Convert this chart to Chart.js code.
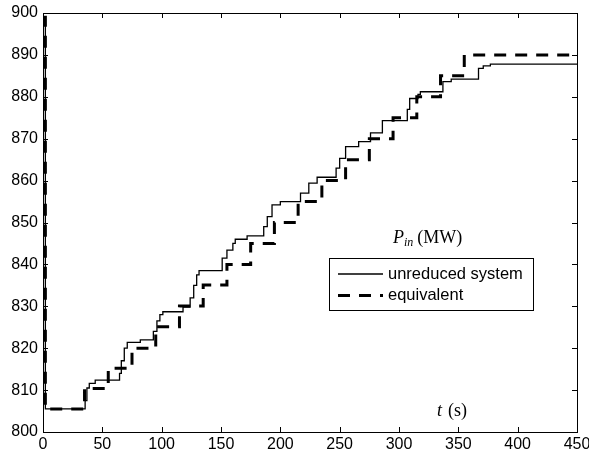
<!DOCTYPE html>
<html>
<head>
<meta charset="utf-8">
<script src="https://cdn.jsdelivr.net/npm/chart.js@4/dist/chart.umd.min.js"></script>
<style>
  html, body { margin: 0; padding: 0; background: #fff; }
  #wrap { width: 589px; height: 455px; }
</style>
</head>
<body>
<div id="wrap"><canvas id="pinChart" width="589" height="455"></canvas></div>
<script>
// step times (s) and the new power level (MW) from that time on
const unreducedT = [0, 2, 35.5, 37, 39, 44, 64.5, 66, 68.5, 71, 82, 93, 96, 98.5, 101, 118, 124, 127, 129.5, 131.5,
  151, 155, 160, 162, 172, 186, 189, 193, 200, 217, 224, 231, 247, 250, 255, 266, 276, 286, 307, 309, 316, 318,
  337, 344, 367, 371, 377, 450];
const unreducedP = [899, 805.5, 807.5, 810.5, 811.6, 812.4, 814, 817, 820, 821.4, 822, 824, 826.5, 828, 828.7, 829.8, 832, 835, 837.5, 838.5,
  841.5, 843.4, 845, 846, 846.8, 849, 851.4, 854.2, 855, 857, 859.4, 860.8, 863, 865.3, 868.1, 869.3, 871.4, 874.3, 877, 879.6, 880.6, 881.2,
  883.6, 884.2, 886.8, 887.4, 887.8, 887.8];

const equivT = [0, 2, 35, 55, 75, 95, 115, 135, 155, 175, 195, 215, 235, 255, 275, 295, 315, 335, 355, 450];
const equivP = [899, 805.5, 810.4, 815.2, 820, 825.1, 830.1, 835.1, 840, 845, 850, 855, 860, 865, 870, 875, 880, 885, 890, 890];

const xTicks = [0, 50, 100, 150, 200, 250, 300, 350, 400, 450];
const yTicks = [800, 810, 820, 830, 840, 850, 860, 870, 880, 890, 900];

const seriesNames = ["unreduced system", "equivalent"];

const toPoints = (ts, ps) => ts.map((t, i) => ({ x: t, y: ps[i] }));

const tickFont = { family: "'Liberation Sans', Arial, sans-serif", size: 16 };

// box round the plot with inward ticks on all four sides, like the original figure
const boxPlugin = {
  id: "box",
  afterDraw(chart) {
    const { ctx, chartArea: a, scales } = chart;
    ctx.save();
    ctx.strokeStyle = "#000";
    ctx.lineWidth = 1;
    ctx.strokeRect(a.left + 0.5, a.top + 0.5, a.right - a.left, a.bottom - a.top);
    ctx.beginPath();
    xTicks.forEach(v => {
      const px = Math.round(scales.x.getPixelForValue(v)) + 0.5;
      ctx.moveTo(px, a.bottom); ctx.lineTo(px, a.bottom - 5);
      ctx.moveTo(px, a.top); ctx.lineTo(px, a.top + 5);
    });
    yTicks.forEach(v => {
      const py = Math.round(scales.y.getPixelForValue(v)) + 0.5;
      ctx.moveTo(a.left, py); ctx.lineTo(a.left + 5, py);
      ctx.moveTo(a.right, py); ctx.lineTo(a.right - 5, py);
    });
    ctx.stroke();

    // legend
    const lx = 329, ly = 258, lw = 204, lh = 52;
    ctx.fillStyle = "#fff";
    ctx.fillRect(lx, ly, lw, lh);
    ctx.strokeRect(lx + 0.5, ly + 0.5, lw, lh);
    ctx.font = "16.5px 'Liberation Sans', Arial, sans-serif";
    ctx.textBaseline = "middle";
    chart.data.datasets.forEach((ds, i) => {
      const y = ly + 16 + i * 21.5;
      ctx.beginPath();
      ctx.strokeStyle = ds.borderColor;
      ctx.lineWidth = ds.borderWidth;
      ctx.setLineDash(ds.borderDash || []);
      ctx.moveTo(338, y); ctx.lineTo(383, y);
      ctx.stroke();
      ctx.setLineDash([]);
      ctx.fillStyle = "#000";
      ctx.fillText(seriesNames[i], 388, y);
    });

    // axis annotations inside the plot
    ctx.fillStyle = "#000";
    ctx.textBaseline = "alphabetic";
    let x = 393;
    ctx.font = "italic 18px 'Liberation Serif', 'Times New Roman', serif";
    ctx.fillText("P", x, 243);
    x += ctx.measureText("P").width;
    ctx.font = "italic 12px 'Liberation Serif', 'Times New Roman', serif";
    ctx.fillText("in", x, 246);
    x += ctx.measureText("in").width + 4;
    ctx.font = "18px 'Liberation Serif', 'Times New Roman', serif";
    ctx.fillText("(MW)", x, 243);

    x = 437;
    ctx.font = "italic 18px 'Liberation Serif', 'Times New Roman', serif";
    ctx.fillText("t", x, 416);
    x += ctx.measureText("t").width + 6;
    ctx.font = "18px 'Liberation Serif', 'Times New Roman', serif";
    ctx.fillText("(s)", x, 416);
    ctx.restore();
  }
};

new Chart(document.getElementById("pinChart").getContext("2d"), {
  type: "line",
  data: {
    datasets: [
      {
        label: seriesNames[0],
        data: toPoints(unreducedT, unreducedP),
        borderColor: "#000",
        borderWidth: 1.3,
        stepped: true,
        pointRadius: 0,
        fill: false,
      },
      {
        label: seriesNames[1],
        data: toPoints(equivT, equivP),
        borderColor: "#000",
        borderWidth: 3,
        borderDash: [12, 9],
        stepped: true,
        pointRadius: 0,
        fill: false,
      },
    ],
  },
  options: {
    responsive: false,
    animation: false,
    layout: { padding: { top: 13, right: 12, left: 0, bottom: 0 } },
    plugins: {
      legend: { display: false },
      tooltip: { enabled: false },
    },
    scales: {
      x: {
        type: "linear",
        min: 0,
        max: 450,
        afterBuildTicks: (s) => { s.ticks = xTicks.map(v => ({ value: v })); },
        afterFit: (s) => { s.height = 23; s.paddingLeft = 0; s.paddingRight = 0; },
        grid: { display: false, drawTicks: false },
        border: { display: false },
        ticks: { color: "#000", font: tickFont, padding: 3, maxRotation: 0 },
      },
      y: {
        min: 800,
        max: 900,
        afterBuildTicks: (s) => { s.ticks = yTicks.map(v => ({ value: v })); },
        afterFit: (s) => { s.width = 43; s.paddingTop = 0; s.paddingBottom = 0; },
        grid: { display: false, drawTicks: false },
        border: { display: false },
        ticks: { color: "#000", font: tickFont, padding: 5 },
      },
    },
  },
  plugins: [boxPlugin],
});
</script>
</body>
</html>
